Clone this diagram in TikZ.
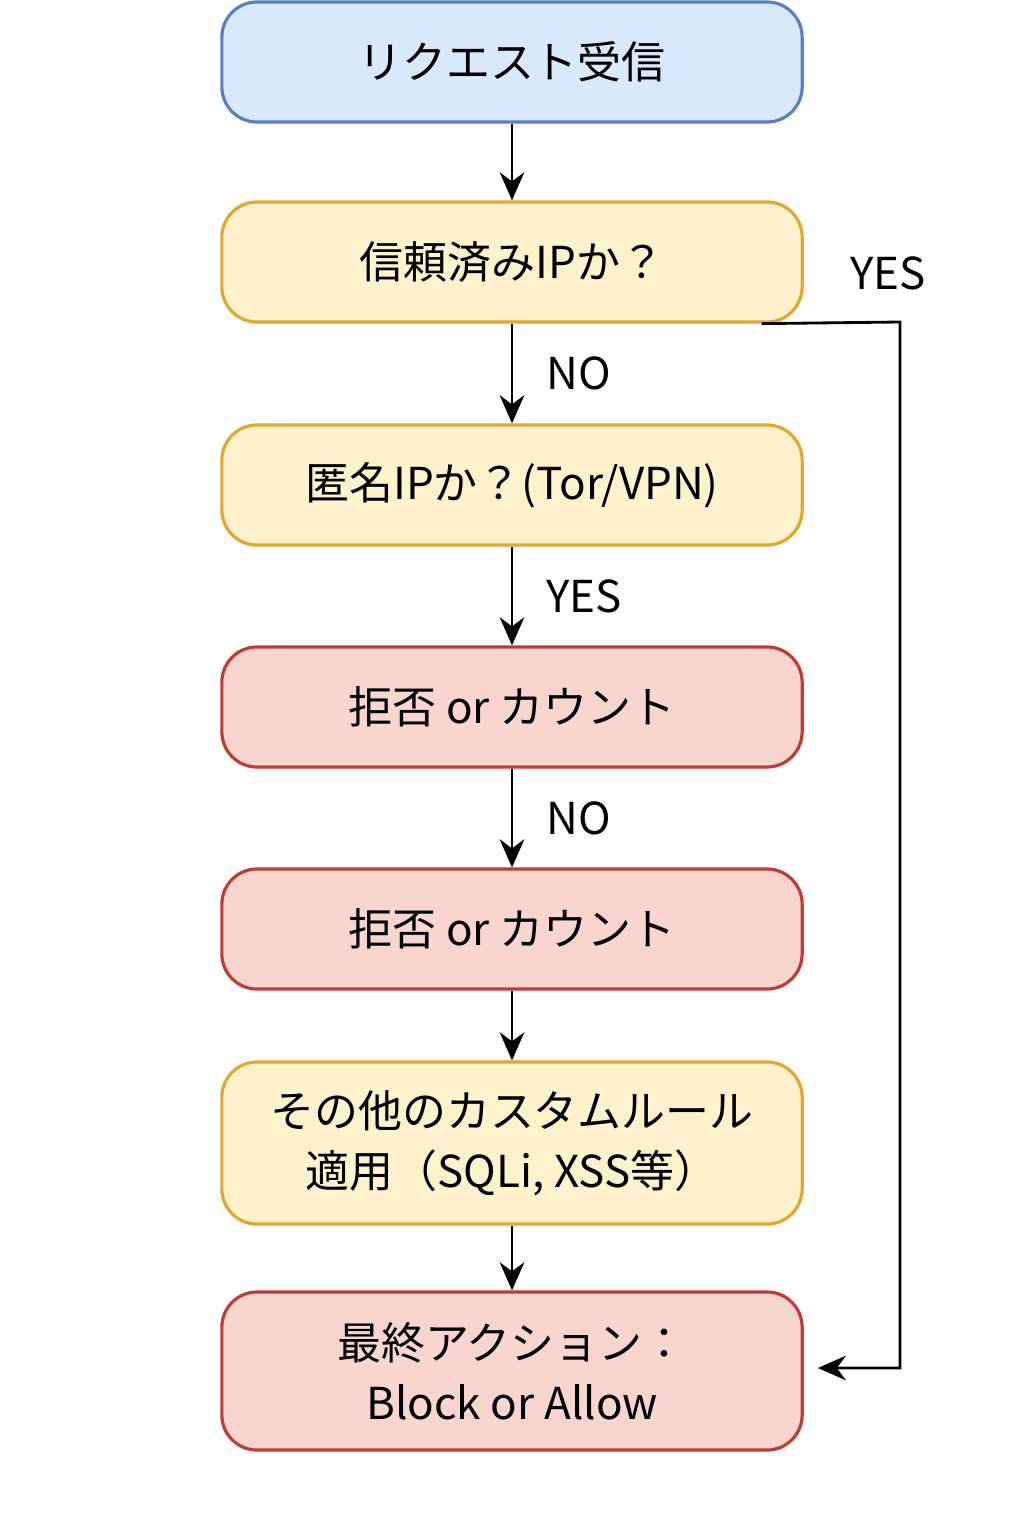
\documentclass[tikz,border=0pt]{standalone}
\usepackage{fontspec}
\setmainfont{Noto Sans CJK JP}
\usetikzlibrary{arrows.meta}
\definecolor{blueF}{HTML}{DAE8FC}
\definecolor{blueD}{HTML}{5B7FC0}
\definecolor{yelF}{HTML}{FFF2CC}
\definecolor{yelD}{HTML}{E2A72E}
\definecolor{redF}{HTML}{F8D6CF}
\definecolor{redD}{HTML}{BF3B36}
\tikzset{
  box/.style={draw,rounded corners=10pt,line width=0.9pt,minimum width=5.8cm,
    minimum height=1.2cm,align=center,font=\fontsize{12.5}{17}\selectfont},
  start/.style={box,fill=blueF,draw=blueD},
  check/.style={box,fill=yelF,draw=yelD},
  stop/.style={box,fill=redF,draw=redD},
  lbl/.style={font=\fontsize{12.5}{15}\selectfont},
  arr/.style={-{Stealth[length=8pt,width=7pt]},line width=0.8pt}
}
\begin{document}
\begin{tikzpicture}[x=0.01cm,y=-0.01cm]
          \useasboundingbox (0,0) rectangle (1024,1536);
          \node[start] (recv) at (512,62) {リクエスト受信};
          \node[check] (trust) at (512,262) {信頼済みIPか？};
          \node[check] (anon) at (512,485) {匿名IPか？(Tor/VPN)};
          \node[stop] (deny1) at (512,707) {拒否 or カウント};
          \node[stop] (deny2) at (512,929) {拒否 or カウント};
          \node[check,minimum height=1.62cm] (rule) at (512,1143) {その他のカスタムルール\\適用（SQLi, XSS等）};
          \node[stop,minimum height=1.58cm] (final) at (512,1371) {最終アクション：\\Block or Allow};
          \coordinate (c1) at (900,322);
          \coordinate (c2) at (900,1368);
          \draw[arr] (recv) -- (trust);
          \draw[arr] (trust) -- node[lbl,right=6pt] {NO} (anon);
          \draw[arr] (anon) -- node[lbl,right=6pt] {YES} (deny1);
          \draw[arr] (deny1) -- node[lbl,right=6pt] {NO} (deny2);
          \draw[arr] (deny2) -- (rule);
          \draw[arr] (rule) -- (final);
          \draw[arr] ([xshift=-12]trust.south east) -- (c1) -- (c2) -- ([xshift=4pt,yshift=0pt]final.east |- c2);
          \node[lbl] (yes) at (888,273) {YES};
        \end{tikzpicture}
\end{document}
